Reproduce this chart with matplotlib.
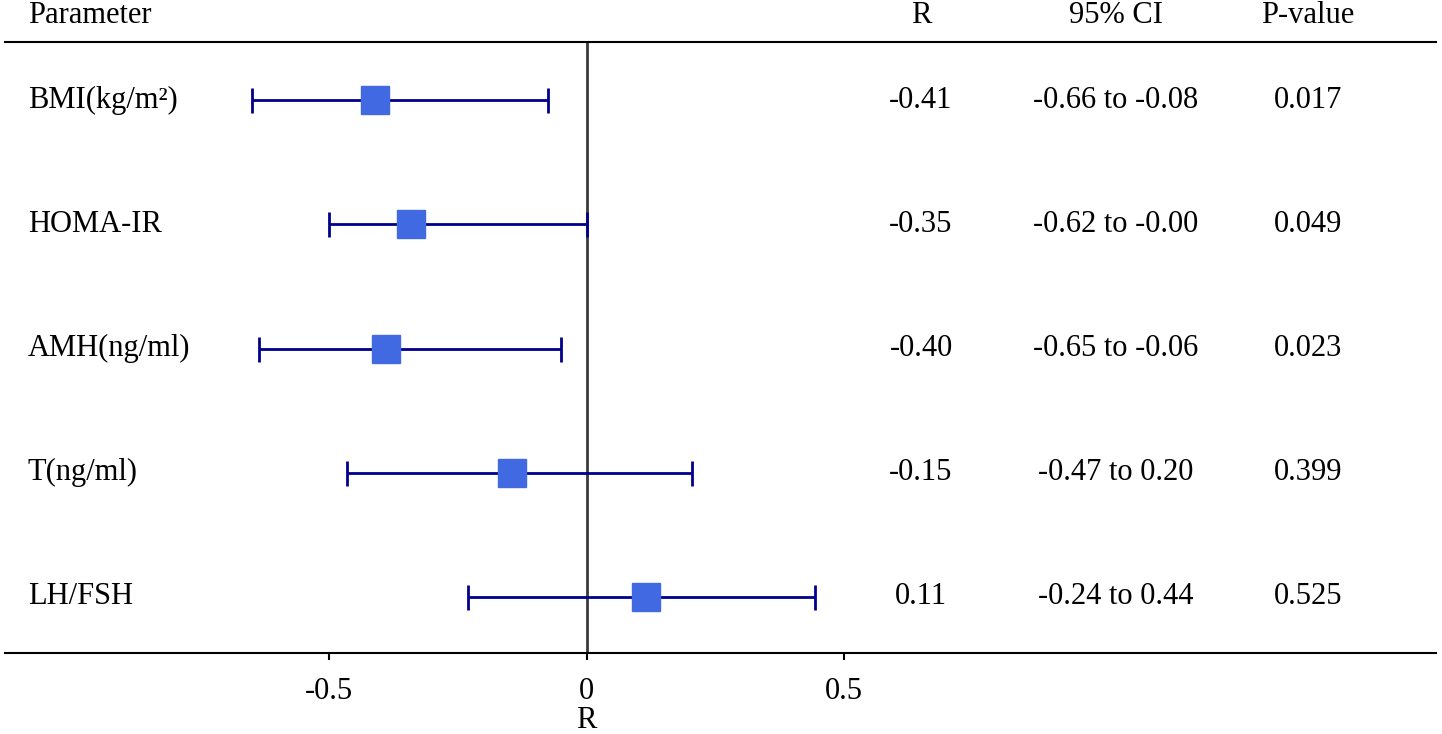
import matplotlib.pyplot as plt
from matplotlib.transforms import blended_transform_factory

params = ['BMI(kg/m²)', 'HOMA-IR', 'AMH(ng/ml)', 'T(ng/ml)', 'LH/FSH']
# positions as drawn in the picture
r_vals = [-0.41, -0.34, -0.39, -0.145, 0.115]
ci_low = [-0.65, -0.50, -0.635, -0.465, -0.23]
ci_high = [-0.075, 0.00, -0.05, 0.205, 0.443]
# values as printed in the table
r_labels = ['-0.41', '-0.35', '-0.40', '-0.15', '0.11']
ci_labels = ['-0.66 to -0.08', '-0.62 to -0.00', '-0.65 to -0.06',
             '-0.47 to 0.20', '-0.24 to 0.44']
p_vals = ['0.017', '0.049', '0.023', '0.399', '0.525']
headers = ['Parameter', 'R', '95% CI', 'P-value']
xticks = [-0.5, 0, 0.5]
xtick_labels = ['-0.5', '0', '0.5']

plt.rcParams['font.family'] = ['Liberation Serif', 'DejaVu Serif']
fs = 22

W, H = 1442, 734
fig = plt.figure(figsize=(W / 100, H / 100), dpi=100)

# axes box in pixels: x 5..1436, y 42..653 (from top)
ax = fig.add_axes([5 / W, 1 - 653 / H, 1431 / W, 611 / H])
x0_px, unit_px = 586.5, 515.0
ax.set_xlim((5 - x0_px) / unit_px, (1436 - x0_px) / unit_px)
row0_px, row_step = 100, 124.25
ax.set_ylim((653 - row0_px) / row_step, (42 - row0_px) / row_step)

ypos = list(range(len(params)))
xerr = [[r - lo for r, lo in zip(r_vals, ci_low)],
        [hi - r for r, hi in zip(r_vals, ci_high)]]

ax.axvline(0, color='#3a3a3a', lw=2, zorder=1)
ax.errorbar(r_vals, ypos, xerr=xerr, fmt='none', ecolor='#00008B',
            elinewidth=2, capsize=9, capthick=2, zorder=2)
ax.plot(r_vals, ypos, 's', color='#4169E1', markersize=20, zorder=3)

for s in ['left', 'right']:
    ax.spines[s].set_visible(False)
for s in ['top', 'bottom']:
    ax.spines[s].set_linewidth(1.5)
    ax.spines[s].set_color('black')
ax.set_yticks([])
ax.set_xticks(xticks)
ax.set_xticklabels(xtick_labels, fontsize=fs)
ax.tick_params(axis='x', length=5, width=1.5, pad=12)
ax.set_xlabel('R', fontsize=fs)
ax.xaxis.set_label_coords((586 - 5) / 1431, -(720 - 653) / 611)
ax.xaxis.label.set_verticalalignment('center')

trans = blended_transform_factory(fig.transFigure, ax.transData)
col_x = [28 / W, 921 / W, 1116 / W, 1308 / W]
header_y = (15 - row0_px) / row_step

ax.text(col_x[0], header_y, headers[0], transform=trans, fontsize=fs,
        ha='left', va='center', clip_on=False)
for cx, h in zip(col_x[1:], headers[1:]):
    ax.text(cx, header_y, h, transform=trans, fontsize=fs,
            ha='center', va='center', clip_on=False)

for i in ypos:
    ax.text(col_x[0], i, params[i], transform=trans, fontsize=fs,
            ha='left', va='center')
    ax.text(col_x[1], i, r_labels[i], transform=trans, fontsize=fs,
            ha='center', va='center')
    ax.text(col_x[2], i, ci_labels[i], transform=trans, fontsize=fs,
            ha='center', va='center')
    ax.text(col_x[3], i, p_vals[i], transform=trans, fontsize=fs,
            ha='center', va='center')

fig.savefig('out.png', dpi=100)
